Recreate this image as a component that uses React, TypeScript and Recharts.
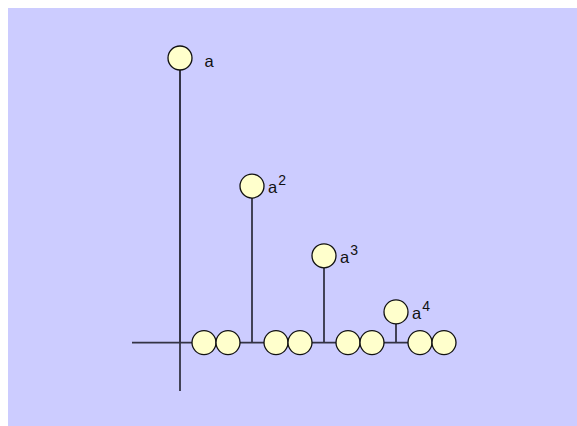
import { ScatterChart, Scatter, XAxis, YAxis, ErrorBar } from 'recharts';

// stem positions along the axis and their heights (a, a^2, a^3, a^4)
const stemX = [0, 3, 6, 9];
const stemY = [1, 0.55, 0.305, 0.108];
const exponents = ['', '2', '3', '4'];

// circles sitting on the horizontal axis
const baseX = [1, 2, 4, 5, 7, 8, 10, 11];

// extent of the two drawn axes
const xRange = [-2, 11];
const yRange = [-0.17, 1];

const LINE = '#333344';
const FILL = '#ffffcc';

const stemData = stemX.map((x, i) => ({ x, y: stemY[i], err: [stemY[i], 0], exp: exponents[i] }));
const baseData = baseX.map((x) => ({ x, y: 0 }));
const hAxis = xRange.map((x) => ({ x, y: 0 }));
const vAxis = yRange.map((y) => ({ x: 0, y }));

const Empty = () => <g />;

const Bead = (props: any) => {
  const { cx, cy } = props;
  return <circle cx={cx} cy={cy} r={12} fill={FILL} stroke="#111" strokeWidth={1.3} />;
};

const LabeledBead = (props: any) => {
  const { cx, cy, payload } = props;
  const exp = payload.exp;
  const dx = exp ? 16 : 24.5;
  const dy = exp ? 7 : 9;
  return (
    <g>
      <circle cx={cx} cy={cy} r={12} fill={FILL} stroke="#111" strokeWidth={1.3} />
      <text x={cx + dx} y={cy + dy} fontSize={16.5} fill="#111" fontFamily="Liberation Sans, Arial, sans-serif">
        <tspan>a</tspan>
        {exp && (
          <tspan dx={1} dy={-8} fontSize={14}>
            {exp}
          </tspan>
        )}
      </text>
    </g>
  );
};

export default function App() {
  return (
    <div style={{ position: 'absolute', left: 8, top: 8, right: 0, bottom: 0, background: '#ccccff' }}>
      <ScatterChart width={569} height={418} margin={{ top: 50, right: 133, bottom: 35, left: 124 }}>
        <XAxis type="number" dataKey="x" domain={xRange} hide />
        <YAxis type="number" dataKey="y" domain={yRange} hide />
        <Scatter data={hAxis} line={{ stroke: LINE, strokeWidth: 1.8 }} shape={Empty} isAnimationActive={false} />
        <Scatter data={vAxis} line={{ stroke: LINE, strokeWidth: 1.8 }} shape={Empty} isAnimationActive={false} />
        <Scatter data={stemData} shape={Empty} isAnimationActive={false}>
          <ErrorBar dataKey="err" direction="y" width={0} stroke={LINE} strokeWidth={1.8} isAnimationActive={false} />
        </Scatter>
        <Scatter data={baseData} shape={Bead} isAnimationActive={false} />
        <Scatter data={stemData} shape={LabeledBead} isAnimationActive={false} />
      </ScatterChart>
    </div>
  );
}
